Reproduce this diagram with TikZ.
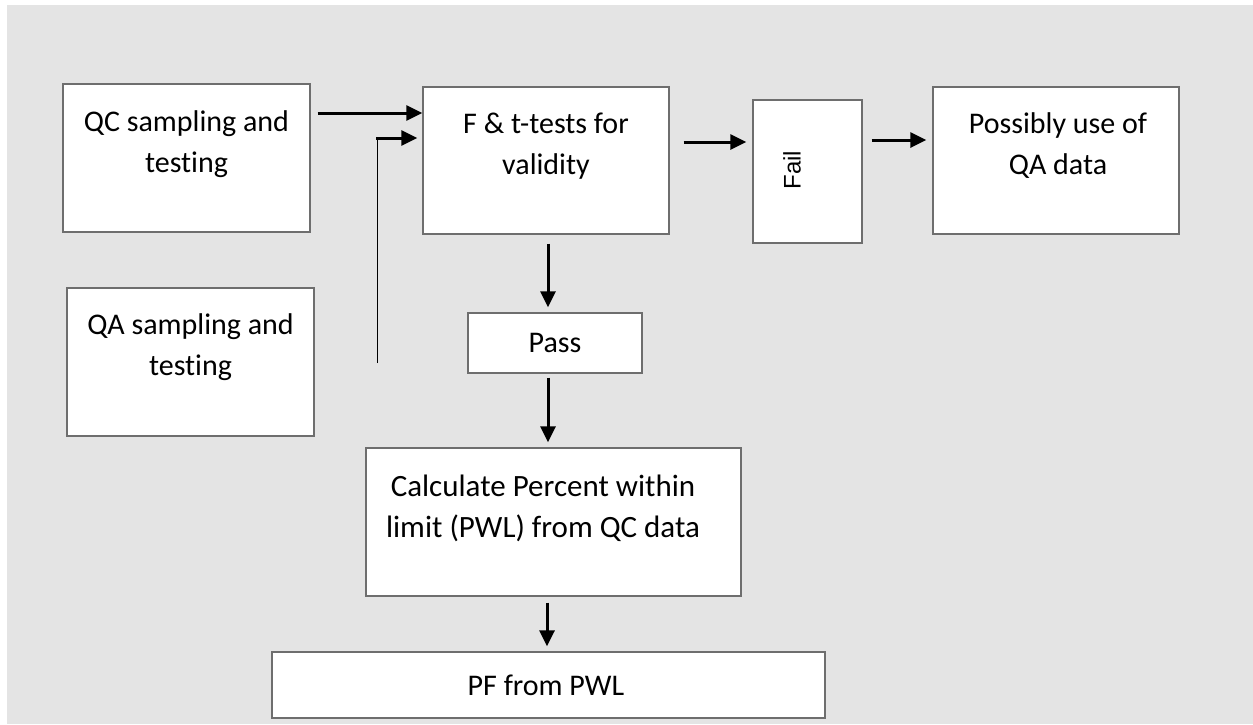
\documentclass[tikz,border=0pt]{standalone}
\usepackage{fontspec}
\setmainfont{Carlito}[Ligatures=NoCommon]
\newfontfamily\failfont{Liberation Sans}
\usetikzlibrary{arrows.meta,calc}
\definecolor{bggray}{HTML}{E4E4E4}
\definecolor{boxline}{HTML}{6E6E6E}
\begin{document}
\begin{tikzpicture}[x=1pt,y=-1pt,
  box/.style={draw=boxline,line width=1.3pt,fill=white,rectangle,inner sep=0pt},
  txt/.style={font=\fontsize{30}{41}\selectfont,align=center,inner sep=0pt},
  arr/.style={line width=3pt,-{Triangle[length=16pt,width=15pt]}},
  thin/.style={line width=1pt}]
\useasboundingbox (0,0) rectangle (1253,724);
\fill[bggray] (7,5) rectangle (1253,724);
% boxes
\node[box,minimum width=247pt,minimum height=148pt] (qc) at (186.5,158) {};
\node[box,minimum width=246pt,minimum height=147pt] (ft) at (546,160.5) {};
\node[box,minimum width=109pt,minimum height=143pt] (fail) at (807.5,171.5) {};
\node[box,minimum width=246pt,minimum height=147pt] (poss) at (1056,160.5) {};
\node[box,minimum width=247pt,minimum height=148pt] (qa) at (190.5,362) {};
\node[box,minimum width=174pt,minimum height=60pt] (pass) at (555,343) {};
\node[box,minimum width=375pt,minimum height=148pt] (calc) at (553.5,522) {};
\node[box,minimum width=553pt,minimum height=66pt] (pf) at (548.5,685) {};
% texts
\node[txt] (qct) at (186.5,144) {QC sampling and\\testing};
\node[txt] (ftt) at (546,146) {F \& t-tests for\\validity};
\node[txt] (posst) at (1058,146) {Possibly use of\\QA data};
\node[txt] (qat) at (190.5,347) {QA sampling and\\testing};
\node[txt] (passt) at (555,343) {Pass};
\node[txt,font=\fontsize{31}{41}\selectfont] (calct) at (543,508) {Calculate Percent within\\limit (PWL) from QC data};
\node[txt] (pft) at (546,685) {PF from PWL};
\node[inner sep=0pt,rotate=90,font=\failfont\fontsize{24}{28}\selectfont] (failt) at (792,170) {Fail};
% connectors
\draw[arr] ($(qc.east)+(7,-45)$) -- ($(ft.west)+(0,-47.5)$);
\coordinate (qaline) at (377,363);
\coordinate (qaturn) at (377,138);
\draw[thin] (qaline) -- (qaturn);
\draw[arr] ($(qaturn)+(-1,0)$) -- ($(ft.west)+(-5,-22.5)$);
\draw[arr] ($(ft.east)+(14,-18.5)$) -- ($(fail.west)+(-6,-29.5)$);
\draw[arr] ($(fail.east)+(9,-31.5)$) -- ($(poss.west)+(-6,-20.5)$);
\draw[arr] ($(ft.south)+(2,9)$) -- ($(pass.north)+(-7,-5)$);
\draw[arr] ($(pass.south)+(-7,4)$) -- ($(calc.north)+(-5.5,-5)$);
\draw[arr] ($(calc.south)+(-6.5,6)$) -- ($(pf.north)+(-1.5,-5)$);
\end{tikzpicture}
\end{document}
